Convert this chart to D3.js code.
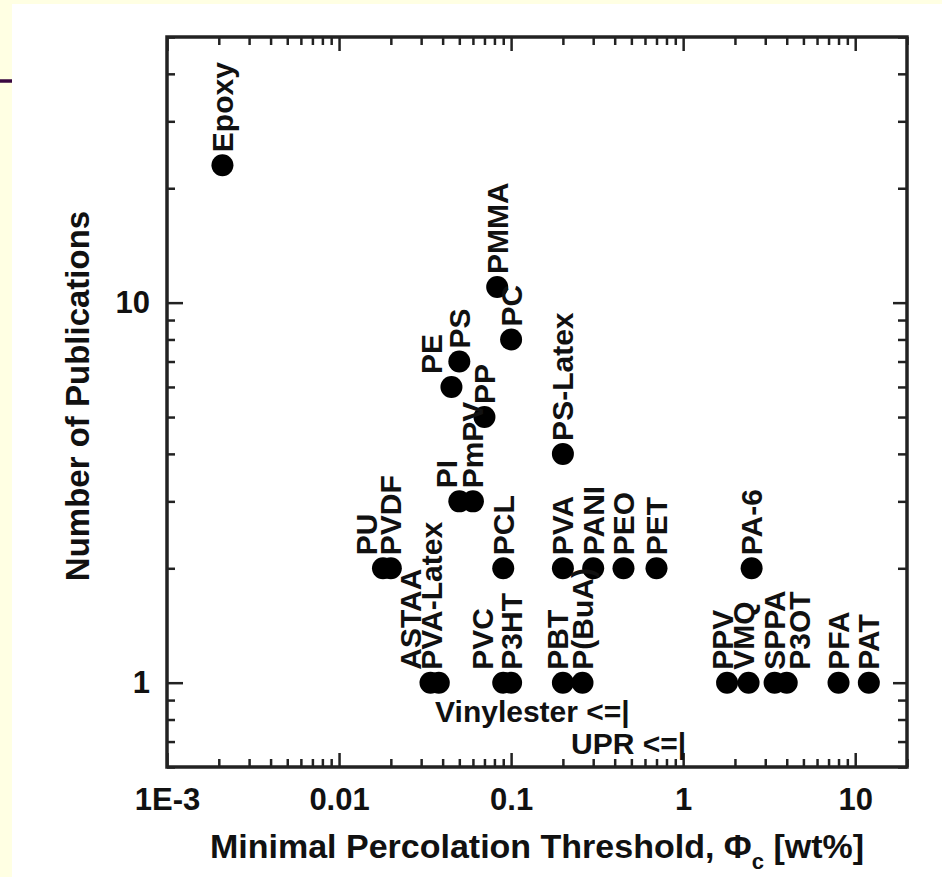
<!DOCTYPE html>
<html>
<head>
<meta charset="utf-8">
<script src="https://cdn.jsdelivr.net/npm/d3@7"></script>
<style>
  html, body { margin: 0; padding: 0; background: #ffffe3; }
  svg { display: block; }
  text { font-family: "Liberation Sans", Arial, sans-serif; font-weight: bold; fill: #111; }
</style>
</head>
<body>
<svg id="chart" width="942" height="877"></svg>
<script>
// polymer matrices, percolation threshold (wt%) and number of publications
var names = ["Epoxy", "PMMA", "PC", "PS", "PE", "PP", "PI", "PmPV", "PS-Latex",
  "PU", "PVDF", "PCL", "PVA", "PANI", "PEO", "PET", "PA-6",
  "ASTAA", "PVA-Latex", "PVC", "P3HT", "PBT", "P(BuA)",
  "PPV", "VMQ", "SPPA", "P3OT", "PFA", "PAT"];
var thresholds = [0.0021, 0.083, 0.1, 0.05, 0.045, 0.07, 0.05, 0.06, 0.2,
  0.018, 0.02, 0.09, 0.2, 0.3, 0.45, 0.7, 2.5,
  0.034, 0.038, 0.09, 0.1, 0.2, 0.26,
  1.8, 2.4, 3.4, 4, 8, 12];
var publications = [23, 11, 8, 7, 6, 5, 3, 3, 4,
  2, 2, 2, 2, 2, 2, 2, 2,
  1, 1, 1, 1, 1, 1,
  1, 1, 1, 1, 1, 1];

// upper bounds written under the points
var boundNames = ["Vinylester", "UPR"];
var boundThresholds = [0.47, 1];
var boundRows = [0.84, 0.69];

var xTicks = [0.001, 0.01, 0.1, 1, 10];
var xTickLabels = ["1E-3", "0.01", "0.1", "1", "10"];
var yTicks = [1, 10];
var yTickLabels = ["1", "10"];

// labels moved sideways so that neighbours don't collide
var labelNudge = { "PE": -20, "PI": -13, "PU": -16, "ASTAA": -20, "PVA-Latex": -7,
  "PVC": -21, "PBT": -5, "PPV": -5, "VMQ": -5, "P3OT": 13 };

var svg = d3.select("#chart");

// slide background
svg.append("rect").attr("width", 942).attr("height", 877).attr("fill", "#ffffe3");
svg.append("rect").attr("x", 12).attr("y", 4).attr("width", 930).attr("height", 873).attr("fill", "white");
svg.append("line").attr("x1", 0).attr("x2", 12).attr("y1", 81).attr("y2", 81)
  .attr("stroke", "#3a0840").attr("stroke-width", 3.5);

// plot box (window.top is taken, hence the prefix)
var boxLeft = 167, boxRight = 907, boxTop = 37, boxBottom = 767;

var x = d3.scaleLog().domain([0.001, 20]).range([boxLeft, boxRight]);
var y = d3.scaleLog().domain([0.6, 50]).range([boxBottom, boxTop]);

var xMinor = x.ticks().filter(function (d) { return xTicks.indexOf(d) < 0; });
var yMinor = y.ticks().filter(function (d) { return yTicks.indexOf(d) < 0; });

function styleAxis(g) {
  g.select(".domain").remove();
  g.selectAll(".tick line").attr("stroke", "#222").attr("stroke-width", 2.5);
  g.selectAll("text").attr("font-size", 31).attr("fill", "#111");
  g.attr("font-family", null).attr("font-size", null);
}

// bottom
svg.append("g").attr("transform", "translate(0," + boxBottom + ")")
  .call(d3.axisBottom(x).tickValues(xTicks).tickSize(-14).tickPadding(21)
    .tickFormat(function (d, i) { return xTickLabels[i]; }))
  .call(styleAxis);
svg.append("g").attr("transform", "translate(0," + boxBottom + ")")
  .call(d3.axisBottom(x).tickValues(xMinor).tickSize(-8).tickFormat(""))
  .call(styleAxis);
// top
svg.append("g").attr("transform", "translate(0," + boxTop + ")")
  .call(d3.axisTop(x).tickValues(xTicks).tickSize(-14).tickFormat(""))
  .call(styleAxis);
svg.append("g").attr("transform", "translate(0," + boxTop + ")")
  .call(d3.axisTop(x).tickValues(xMinor).tickSize(-8).tickFormat(""))
  .call(styleAxis);
// left
svg.append("g").attr("transform", "translate(" + boxLeft + ",0)")
  .call(d3.axisLeft(y).tickValues(yTicks).tickSize(-16).tickPadding(17)
    .tickFormat(function (d, i) { return yTickLabels[i]; }))
  .call(styleAxis);
svg.append("g").attr("transform", "translate(" + boxLeft + ",0)")
  .call(d3.axisLeft(y).tickValues(yMinor).tickSize(-8).tickFormat(""))
  .call(styleAxis);
// right
svg.append("g").attr("transform", "translate(" + boxRight + ",0)")
  .call(d3.axisRight(y).tickValues(yTicks).tickSize(-14).tickFormat(""))
  .call(styleAxis);
svg.append("g").attr("transform", "translate(" + boxRight + ",0)")
  .call(d3.axisRight(y).tickValues(yMinor).tickSize(-9).tickFormat(""))
  .call(styleAxis);

// frame
svg.append("rect")
  .attr("x", boxLeft).attr("y", boxTop)
  .attr("width", boxRight - boxLeft).attr("height", boxBottom - boxTop)
  .attr("fill", "none").attr("stroke", "#222").attr("stroke-width", 3.5);

var r = 11;

var points = svg.append("g").selectAll("g")
  .data(names)
  .enter()
  .append("g");

points.append("circle")
  .attr("cx", function (d, i) { return x(thresholds[i]); })
  .attr("cy", function (d, i) { return y(publications[i]); })
  .attr("r", r)
  .attr("fill", "black");

points.append("text")
  .attr("transform", function (d, i) {
    var dx = labelNudge[d] || 0;
    return "translate(" + (x(thresholds[i]) + dx) + "," + (y(publications[i]) - r - 2) + ") rotate(-90)";
  })
  .attr("dominant-baseline", "central")
  .attr("font-size", 30)
  .text(function (d) { return d; });

// "<=|" upper limits
svg.append("g").selectAll("text")
  .data(boundNames)
  .enter()
  .append("text")
  .attr("x", function (d, i) { return x(boundThresholds[i]) + 3; })
  .attr("y", function (d, i) { return y(boundRows[i]); })
  .attr("dominant-baseline", "central")
  .attr("text-anchor", "end")
  .attr("font-size", 30)
  .text(function (d) { return d + " <=|"; });

// axis titles
var xTitle = svg.append("text")
  .attr("x", (boxLeft + boxRight) / 2)
  .attr("y", 858)
  .attr("text-anchor", "middle")
  .attr("font-size", 34);
xTitle.append("tspan").text("Minimal Percolation Threshold, Φ");
xTitle.append("tspan").attr("font-size", 22).attr("dy", 11).text("c");
xTitle.append("tspan").attr("dy", -11).text(" [wt%]");

svg.append("text")
  .attr("transform", "translate(89,396) rotate(-90)")
  .attr("text-anchor", "middle")
  .attr("font-size", 33)
  .text("Number of Publications");
</script>
</body>
</html>
